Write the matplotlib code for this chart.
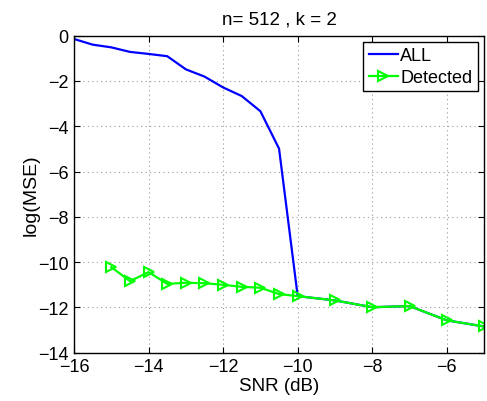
import numpy as np
import matplotlib
matplotlib.use('Agg')
import matplotlib.pyplot as plt

plt.rcParams['font.family'] = ['Liberation Sans', 'DejaVu Sans']

snr_all = [-16, -15.5, -15, -14.5, -14, -13.5, -13, -12.5, -12, -11.5, -11, -10.5, -10, -9, -8, -7, -6, -5]
mse_all = [-0.15, -0.40, -0.52, -0.72, -0.81, -0.91, -1.49, -1.81, -2.29, -2.67, -3.34, -4.99, -11.50,
           -11.69, -11.99, -11.94, -12.57, -12.84]

snr_det = [-15, -14.5, -14, -13.5, -13, -12.5, -12, -11.5, -11, -10.5, -10, -9, -8, -7, -6, -5]
mse_det = [-10.22, -10.84, -10.44, -10.96, -10.91, -10.93, -11.0, -11.09, -11.13, -11.41, -11.50,
           -11.69, -11.99, -11.94, -12.57, -12.84]

fig = plt.figure(figsize=(4.87, 4.02), dpi=100)
ax = fig.add_axes([0.152, 0.12, 0.842, 0.789])

ax.plot(snr_all, mse_all, color='#0000ff', lw=1.6, label='ALL')
ax.plot(snr_det, mse_det, color='#00ff00', lw=1.6, marker='>', markersize=7,
        markerfacecolor='none', markeredgecolor='#00ff00', markeredgewidth=1.5, label='Detected')

ax.set_xlim(-16, -5)
ax.set_ylim(-14, 0)
ax.set_xticks([-16, -14, -12, -10, -8, -6])
ax.set_yticks([-14, -12, -10, -8, -6, -4, -2, 0])
ax.grid(True, linestyle=(0, (1, 3)), color='#999999', lw=0.8)
ax.tick_params(direction='in', top=True, right=True, labelsize=13, length=4)
ax.tick_params(axis='x', pad=4)
ax.tick_params(axis='y', pad=4)
for s in ax.spines.values():
    s.set_linewidth(1.0)

ax.set_xlabel('SNR (dB)', fontsize=13.5, labelpad=1)
ax.set_ylabel('log(MSE)', fontsize=14, labelpad=-1)
ax.set_title('n= 512 , k = 2', fontsize=13.5, pad=9)

leg = ax.legend(loc='upper right', fontsize=13, fancybox=False, framealpha=1,
                edgecolor='black', borderaxespad=0.35, handlelength=1.6,
                handletextpad=0.15, borderpad=0.3, labelspacing=0.25)
leg.get_frame().set_linewidth(1.0)

fig.savefig('out.png', dpi=100)
